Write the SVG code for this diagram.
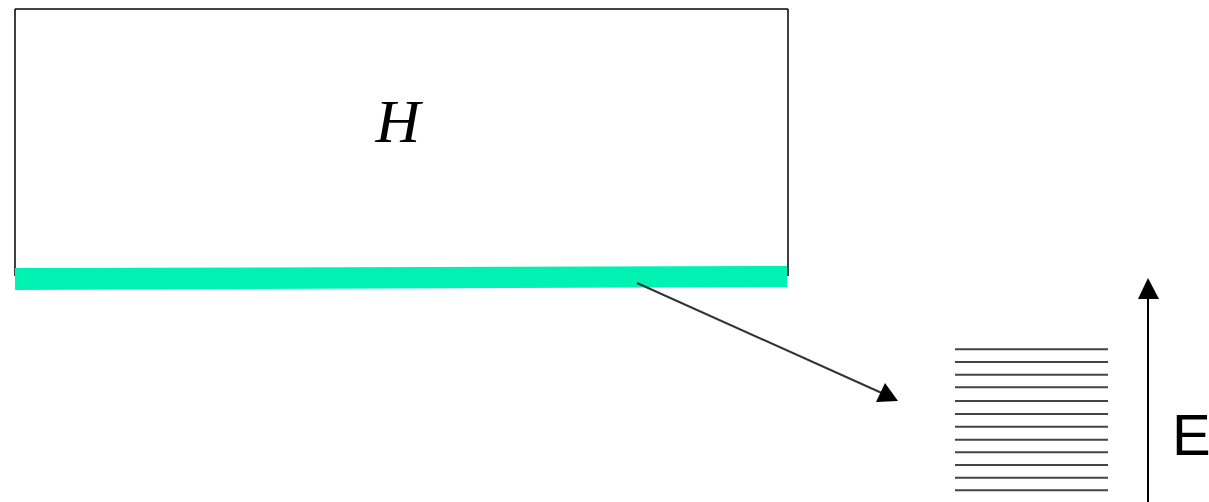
<svg xmlns="http://www.w3.org/2000/svg" width="1209" height="502" viewBox="0 0 1209 502">
<style>
.lvl{stroke:#444;stroke-width:2}
.box{stroke:#000;stroke-width:1.5;fill:none}
</style>
<rect width="1209" height="502" fill="#fff"/>
<g id="box">
<line x1="15" y1="9" x2="788" y2="9" stroke="#444" stroke-width="2"/>
<line class="box" x1="15" y1="9" x2="15" y2="276"/>
<line class="box" x1="788" y1="9" x2="788" y2="276"/>
<polygon points="15,268 787,266 787,287 15,290" fill="#00F2B2"/>
<text x="398" y="142" font-family="Liberation Serif, serif" font-style="italic" font-size="62" text-anchor="middle" fill="#000">H</text>
</g>
<g id="connectors">
<line x1="637" y1="283" x2="884" y2="394" stroke="#333" stroke-width="2"/>
<polygon points="898,401 876,402 885,383" fill="#000"/>
<line x1="1148" y1="502" x2="1148" y2="296" stroke="#000" stroke-width="2"/>
<polygon points="1148,278 1159,299 1138,299" fill="#000"/>
</g>
<g id="levels">
<line class="lvl" x1="955" y1="349.3" x2="1108" y2="349.3"/>
<line class="lvl" x1="955" y1="362" x2="1108" y2="362"/>
<line class="lvl" x1="955" y1="374.7" x2="1108" y2="374.7"/>
<line class="lvl" x1="955" y1="387.3" x2="1108" y2="387.3"/>
<line class="lvl" x1="955" y1="401" x2="1108" y2="401"/>
<line class="lvl" x1="955" y1="414" x2="1108" y2="414"/>
<line class="lvl" x1="955" y1="426.7" x2="1108" y2="426.7"/>
<line class="lvl" x1="955" y1="439.7" x2="1108" y2="439.7"/>
<line class="lvl" x1="955" y1="452.3" x2="1108" y2="452.3"/>
<line class="lvl" x1="955" y1="465" x2="1108" y2="465"/>
<line class="lvl" x1="955" y1="477.7" x2="1108" y2="477.7"/>
<line class="lvl" x1="955" y1="490.3" x2="1108" y2="490.3"/>
</g>
<g id="label-E">
<text x="1172" y="455" font-family="Liberation Sans, sans-serif" font-size="58" fill="#000">E</text>
</g>
</svg>
